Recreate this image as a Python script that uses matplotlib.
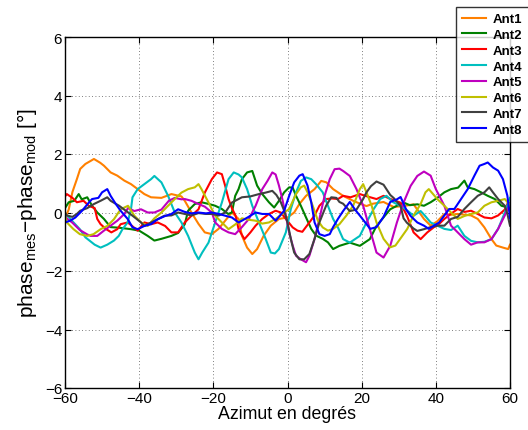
import matplotlib
matplotlib.use("Agg")
import matplotlib.pyplot as plt

plt.rcParams['font.family'] = ['Liberation Sans', 'DejaVu Sans']
plt.rcParams['mathtext.fontset'] = 'custom'
plt.rcParams['mathtext.rm'] = 'Liberation Sans'
plt.rcParams['mathtext.it'] = 'Liberation Sans'

labels = ['Ant1', 'Ant2', 'Ant3', 'Ant4', 'Ant5', 'Ant6', 'Ant7', 'Ant8']
colors = ['#ff8000', '#008000', '#ff0000', '#00bfbf', '#bf00bf', '#bfbf00', '#404040', '#0000ff']

ant1 = [(-60,-0.2),(-59,0.1),(-58,0.7),(-56.8,1.14),(-55.9,1.49),(-54.5,1.66),(-53,1.77),(-52.2,1.83),
        (-50.5,1.7),(-49.5,1.6),(-47.7,1.37),(-45.9,1.26),(-44,1.09),(-42.2,0.97),(-40.4,0.8),(-38.6,0.63),
        (-36.8,0.52),(-34,0.5),(-31.3,0.63),(-28.6,0.55),(-27.7,0.4),(-25.9,0),(-24,-0.39),(-22.3,-0.68),
        (-20.4,-0.74),(-18.6,-0.56),(-16.8,-0.28),(-15,0),(-13.2,-0.22),(-12.3,-0.79),(-10.9,-1.2),(-9.5,-1.42),
        (-8.2,-1.25),(-6.4,-0.79),(-4.5,-0.45),(-2.3,-0.22),(0,-0.17),(1.8,0),(3.2,0.29),(5,0.57),(7.3,0.8),
        (9.1,1.08),(10.5,1.03),(12.3,0.8),(15,0.57),(17.7,0.4),(19.6,0.3),(21.3,0.22),(23,0.3),(25.9,0.36),
        (28.6,0.19),(31.3,0.22),(34,0.28),(36.8,-0.22),(38.6,-0.45),(40.4,-0.3),(42.3,-0.05),(44,-0.08),
        (45.9,-0.05),(49.5,-0.1),(51.3,-0.22),(53.1,-0.51),(55,-0.91),(56.3,-1.13),(58.1,-1.2),(59.5,-1.25),(60,-1.1)]

ant2 = [(-60,0.15),(-59,0.35),(-57.5,0.4),(-56.3,0.63),(-55.5,0.45),(-54,0.52),(-52.7,0.23),(-51.3,0),
        (-49.5,-0.22),(-47.7,-0.5),(-45.5,-0.52),(-42.2,-0.57),(-40,-0.62),(-37.7,-0.8),(-35.9,-0.96),(-34,-0.9),
        (-31.3,-0.8),(-29.5,-0.7),(-27.7,-0.4),(-26.8,0.06),(-25,0.29),(-23.2,0.35),(-21.5,0.3),(-19.5,0.23),
        (-17.7,0.12),(-16,-0.05),(-15,0),(-14.1,0.57),(-13.2,0.8),(-12.3,1.14),(-10.9,1.37),(-9.5,1.42),
        (-8.2,0.92),(-6.8,0.63),(-5,0.35),(-3.6,0.17),(-2.3,0.4),(-0.9,0.69),(0.45,0.86),(1.4,0.85),(2.3,0.57),
        (3.6,0.23),(5,-0.17),(6.4,-0.56),(7.7,-0.79),(9.5,-0.9),(10.9,-1.02),(12.3,-1.25),(14,-1.14),
        (16.8,-1.03),(19.5,-1.14),(22.2,-0.91),(24,-0.46),(26,-0.15),(27.7,0.11),(29.5,0.23),(31.3,0.34),
        (33,0.25),(35,0.28),(36.8,0.23),(38.6,0.35),(40.4,0.5),(42.3,0.69),(44.1,0.8),(46,0.85),(47.7,1.09),
        (48.6,0.86),(50.4,0.8),(52.2,0.69),(54,0.57),(55.9,0.46),(57.7,0.23),(59.5,0.17),(60,0.15)]

ant3 = [(-60,0.55),(-59.5,0.63),(-58,0.5),(-56.8,0.35),(-55,0.4),(-53.6,0.23),(-52,0.15),(-51.3,-0.22),
        (-50.4,-0.4),(-49,-0.56),(-47.5,-0.68),(-45.9,-0.57),(-45,-0.4),(-43.1,-0.34),(-42,-0.45),(-40.4,-0.62),
        (-38.6,-0.34),(-36.8,-0.4),(-35,-0.34),(-33,-0.46),(-31.3,-0.68),(-29.5,-0.68),(-27.7,-0.34),
        (-25.9,-0.11),(-24,0.11),(-22.3,0.68),(-20.4,1.14),(-19,1.37),(-17.7,1.31),(-16.8,0.91),(-15.9,0.46),
        (-15,0.15),(-14,-0.11),(-13.2,-0.57),(-11.6,-0.91),(-10,-0.68),(-8.6,-0.45),(-6.8,-0.22),(-5,-0.05),
        (-3.2,0.06),(-1.8,0),(-0.45,-0.22),(1.4,-0.51),(2.7,-0.62),(4,-0.66),(5.9,-0.34),(7.3,-0.1),(8.6,0.23),
        (10.4,0.46),(12,0.48),(13.6,0.46),(15,0.57),(17,0.52),(19.5,0.63),(21.5,0.55),(24,0.46),(25.9,0.57),
        (28,0.45),(30.4,0.34),(32.2,-0.11),(34,-0.68),(35.9,-0.91),(37.7,-0.68),(39.5,-0.5),(40.4,-0.45),
        (42.3,-0.22),(44,-0.05),(45.9,0.12),(47.7,0.02),(49.5,0.06),(51.3,-0.05),(53.1,-0.17),(55,-0.2),
        (56.8,-0.1),(58.6,0.1),(59.5,0.35),(60,0.3)]

ant4 = [(-60,-0.1),(-59,-0.15),(-57.7,-0.34),(-56,-0.57),(-54.5,-0.85),(-53,-1.0),(-52,-1.1),(-50.4,-1.2),
        (-48.6,-1.1),(-46.8,-0.96),(-45.5,-0.8),(-44.5,-0.57),(-43.1,-0.34),(-42.2,0.12),(-41.8,0.52),
        (-40.4,0.8),(-38.6,0.97),(-36.8,1.14),(-35.9,1.25),(-34,1.03),(-32.2,0.57),(-30.4,0),(-28.6,-0.34),
        (-26.8,-0.8),(-25,-1.37),(-24,-1.6),(-23,-1.37),(-21.3,-1.03),(-19.5,-0.34),(-17.7,0.34),(-15.9,1.14),
        (-14.5,1.37),(-13.2,1.3),(-12.3,1.2),(-10.9,0.8),(-9.5,0.23),(-7.7,-0.34),(-5.9,-0.9),(-4.5,-1.37),
        (-3.4,-1.4),(-2.3,-1.25),(-0.45,-0.68),(0.9,0.12),(2.3,0.69),(3.6,1.08),(5,1.2),(6.4,1.14),(7.7,0.97),
        (9.5,0.69),(10.9,0.23),(12.3,-0.22),(13.6,-0.51),(15,-0.91),(16.8,-1.03),(19.5,-0.8),(21.3,-0.34),
        (23.2,0.11),(25,0.46),(26.7,0.57),(28.5,0.35),(30.4,0.23),(32,0.1),(34,-0.11),(35.9,0.05),(37,-0.1),
        (38.6,-0.34),(40.4,-0.45),(42.3,-0.56),(44.1,-0.6),(45.9,-0.45),(47.7,-0.8),(49.5,-0.97),(51.3,-1.02),
        (53.1,-1.0),(55,-0.91),(56.8,-0.56),(58.6,0),(60,0.5)]

ant5 = [(-60,-0.15),(-58,-0.35),(-56,-0.6),(-54,-0.75),(-53.1,-0.8),(-51.3,-0.8),(-49.5,-0.62),(-47.7,-0.45),
        (-45.9,-0.28),(-44,-0.05),(-43,0.15),(-41.3,0.05),(-39.5,0.11),(-37.7,0),(-35.9,0),(-34,0.1),(-32,0.4),
        (-30.4,0.5),(-28.6,0.45),(-27.7,0.46),(-25.9,0.4),(-24,0.29),(-22.3,0.2),(-20.4,0),(-19.5,-0.34),
        (-17.7,-0.56),(-15.9,-0.68),(-14.1,-0.74),(-12.3,-0.5),(-10.4,-0.22),(-8.6,0.23),(-6.8,0.8),(-5.4,1.08),
        (-4.1,1.37),(-3.2,1.3),(-2.3,0.92),(-1.4,0.46),(-0.45,-0.11),(0.45,-0.68),(1.4,-1.13),(2.3,-1.48),
        (3.6,-1.6),(5,-1.7),(5.9,-1.48),(7.3,-0.9),(8.6,-0.22),(10,0.57),(11.4,1.14),(12.7,1.48),(14,1.5),
        (15,1.42),(16.8,1.25),(18.6,0.8),(20.4,0.23),(22.2,-0.57),(24,-1.37),(25.9,-1.54),(27.7,-1.14),
        (29.5,-0.34),(31.3,0.34),(33.2,0.91),(35,1.25),(36.8,1.4),(38.6,1.26),(40,0.8),(42.3,0.23),(44.1,-0.45),
        (45.9,-0.68),(47.7,-0.91),(49.5,-1.1),(51.3,-1.02),(53.1,-1.02),(55,-0.91),(56.8,-0.56),(58.6,-0.1),
        (60,0.3)]

ant6 = [(-60,-0.1),(-59.5,-0.34),(-57.7,-0.57),(-56,-0.74),(-54,-0.8),(-52.3,-0.74),(-50.4,-0.57),
        (-48.6,-0.46),(-46.8,-0.23),(-45,0.11),(-43,0.23),(-41.3,-0.11),(-39.5,-0.34),(-37.7,-0.46),
        (-35.9,-0.2),(-34,0),(-32.2,0.23),(-30.4,0.46),(-28.6,0.68),(-26.8,0.8),(-25,0.86),(-24,0.97),
        (-23.2,0.8),(-21.3,0.34),(-19.5,-0.11),(-17.7,-0.34),(-15.9,-0.57),(-14,-0.4),(-12.3,-0.2),
        (-10.4,-0.25),(-8.6,-0.28),(-6.8,-0.38),(-5,-0.34),(-3.2,-0.22),(-1.4,-0.05),(0.45,0.12),(2.3,0.63),
        (3.6,0.86),(4.5,0.92),(5.4,0.69),(6.8,0.23),(8.2,-0.28),(9.5,-0.51),(10.9,-0.62),(12.3,-0.56),(14,-0.4),
        (15.9,-0.1),(17.7,0.23),(19.5,0.8),(20.4,0.97),(21.3,0.69),(22.7,0.23),(24,-0.34),(25.9,-0.9),
        (27.7,-1.19),(29.1,-1.13),(30.4,-0.9),(32.3,-0.56),(34,-0.1),(35.9,0.29),(37.2,0.69),(38.1,0.8),
        (40.4,0.46),(42.3,0.23),(44.1,0),(45.9,-0.22),(47.7,-0.12),(49.5,-0.05),(51.3,0),(53.1,0.23),(55,0.35),
        (56.8,0.4),(58.6,0.46),(60,0.25)]

ant7 = [(-60,0.0),(-59.5,-0.1),(-58,-0.15),(-56.8,-0.05),(-55.9,0.06),(-54,0.15),(-52.2,0.29),(-50.4,0.4),
        (-48.6,0.52),(-47.7,0.4),(-45.4,0.23),(-43.6,0.06),(-41.8,-0.11),(-39.5,-0.34),(-38.6,-0.46),
        (-36.8,-0.34),(-35,-0.23),(-33.2,-0.11),(-31.3,-0.1),(-29.5,0),(-27.7,-0.05),(-25.9,-0.1),(-24,-0.02),
        (-22,-0.05),(-20.4,-0.05),(-18.5,-0.1),(-16.8,0),(-15,0.34),(-13.2,0.46),(-12.3,0.52),(-10,0.55),
        (-7.7,0.63),(-5.9,0.68),(-4.1,0.74),(-3,0.6),(-1.8,0.35),(-0.9,0.06),(0,-0.34),(0.9,-0.91),(1.8,-1.37),
        (3.2,-1.6),(4.5,-1.6),(5.9,-1.42),(7.3,-0.9),(8.6,-0.34),(10.4,0.23),(11.8,0.52),(13.2,0.5),(14,0.36),
        (15,0.3),(16.8,0.05),(18.6,0.1),(20.4,0.46),(21.3,0.69),(22.5,0.9),(24,1.06),(25.9,0.95),(27.7,0.6),
        (28.6,0.5),(30.5,0.22),(31.3,-0.2),(32.2,-0.35),(34,-0.55),(35,-0.63),(36.8,-0.57),(38.6,-0.5),
        (40.4,-0.45),(42.3,-0.45),(44.1,-0.22),(45.9,-0.15),(47.7,0.12),(49.5,0.35),(51.3,0.57),(53.1,0.69),
        (54.4,0.86),(55.4,0.69),(56.8,0.46),(58.6,0.23),(59.3,-0.05),(60,-0.45)]

ant8 = [(-60,-0.34),(-58.6,-0.28),(-57.2,-0.17),(-55.4,0.06),(-53.5,0.35),(-52.7,0.46),(-51,0.5),(-50,0.69),
        (-48.6,0.8),(-47.7,0.57),(-46.3,0.29),(-45,0.06),(-43.1,-0.22),(-41.8,-0.51),(-40.4,-0.57),
        (-38.6,-0.46),(-36.8,-0.4),(-35,-0.23),(-33,-0.12),(-31.3,-0.05),(-29.5,0.11),(-27.7,0.02),
        (-25.9,-0.03),(-24,0),(-22,-0.03),(-20.4,0),(-18.5,-0.05),(-16.8,-0.11),(-15,-0.17),(-13.2,-0.34),
        (-12.3,-0.28),(-10.5,-0.15),(-8.6,0),(-6.8,-0.05),(-5,-0.05),(-3.2,-0.28),(-0.9,0.06),(0.45,0.57),
        (1.8,1.03),(3.2,1.26),(4.1,1.31),(5.4,0.92),(6.4,0.35),(7.3,-0.34),(8.6,-0.74),(10,-0.8),(11.4,-0.74),
        (12.3,-0.5),(13.6,-0.22),(15,0.05),(16.8,0.36),(18.2,0.1),(19.6,-0.12),(22.3,-0.56),(24,-0.5),
        (25.9,-0.15),(27.7,0.36),(29.5,0.45),(30.5,0.53),(32,0.1),(33.2,-0.12),(35,-0.34),(36.8,-0.45),
        (38.1,-0.56),(40.9,-0.34),(42.3,-0.1),(43.6,0.12),(45,0.12),(46.8,0.46),(48.6,0.8),(50.4,1.26),
        (51.8,1.6),(53.1,1.66),(54,1.71),(55.4,1.54),(56.8,1.43),(58.1,1.14),(59.3,0.57),(60,-0.2)]

series = [ant1, ant2, ant3, ant4, ant5, ant6, ant7, ant8]

x_ticks = [-60, -40, -20, 0, 20, 40, 60]
y_ticks = [-6, -4, -2, 0, 2, 4, 6]

fig = plt.figure(figsize=(5.28, 4.31), dpi=100)
ax = fig.add_axes([65/528, 1 - 389/431, 445/528, 351/431])

for data, lab, col in zip(series, labels, colors):
    xs = [p[0] for p in data]
    ys = [p[1] for p in data]
    ax.plot(xs, ys, color=col, lw=1.5, label=lab)

ax.set_xlim(-60, 60)
ax.set_ylim(-6, 6)
ax.set_xticks(x_ticks)
ax.set_yticks(y_ticks)
ax.tick_params(direction='in', top=True, right=True, labelsize=11, length=4, width=0.8, pad=2)
ax.grid(True, linestyle=(0, (1, 3)), color='#555555', linewidth=0.6)
for s in ax.spines.values():
    s.set_linewidth(1.0)

ax.set_xlabel('Azimut en degrés', fontsize=12.8, labelpad=0)
ax.set_ylabel(r'phase$_{\mathrm{mes}}$−phase$_{\mathrm{mod}}$ [°]', fontsize=15, labelpad=4)

leg = ax.legend(loc='upper left', bbox_to_anchor=(456/528, 1 - 8/431), bbox_transform=fig.transFigure,
                prop={'weight': 'bold', 'size': 9.5}, frameon=True, fancybox=False, edgecolor='black',
                handlelength=1.8, handletextpad=0.55, labelspacing=0.27, borderpad=0.45, borderaxespad=0)
leg.get_frame().set_linewidth(1.0)
leg.set_clip_on(False)

fig.savefig('out.png', dpi=100)
